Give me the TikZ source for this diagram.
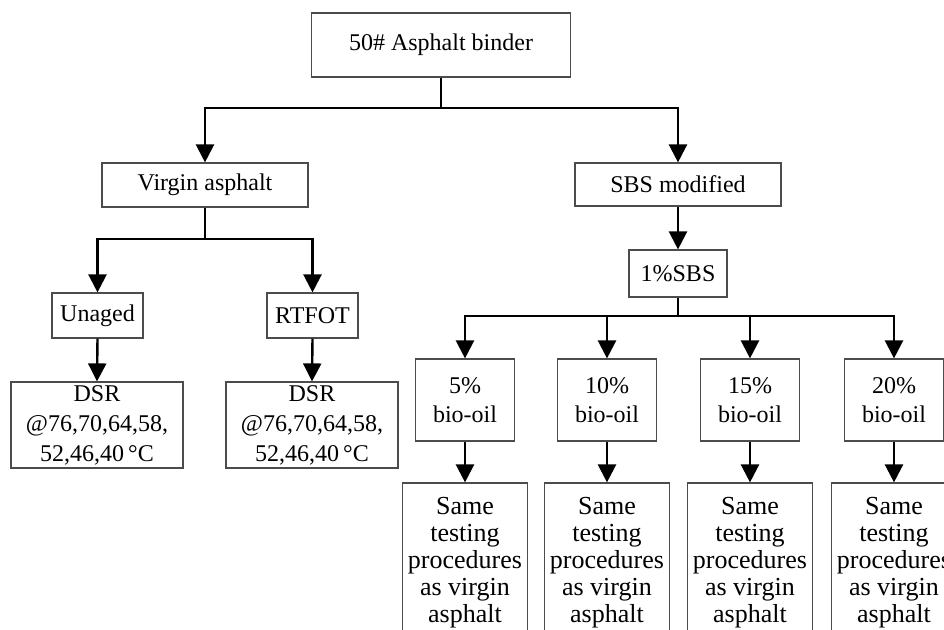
\documentclass[tikz,border=0pt]{standalone}
\usepackage{fontspec}
\setmainfont{Liberation Serif}
\usetikzlibrary{arrows.meta}

\begin{document}
\begin{tikzpicture}[x=0.5pt, y=-0.5pt, >={Triangle[length=9pt,width=9pt]},
    box/.style={draw=black!70, line width=0.6pt, inner sep=0pt, align=center,
                font=\fontsize{12}{14.4}\selectfont},
    conn/.style={line width=1.2pt}]
                \useasboundingbox (0,0) rectangle (944,629);
                \clip (0,0) rectangle (944,629);
                % boxes
                \node[box, minimum width=129.5pt, minimum height=32pt] (binder) at (441,45) {50\# Asphalt binder};
                \node[box, minimum width=103pt, minimum height=22pt] (virgin) at (205,185) {Virgin asphalt};
                \node[box, minimum width=103pt, minimum height=21.5pt] (sbs) at (678,184.5) {SBS modified};
                \node[box, minimum width=49pt, minimum height=23.5pt] (onesbs) at (678,273.5) {1\%SBS};
                \node[box, minimum width=45.5pt, minimum height=22.5pt] (unaged) at (97.5,315.5) {Unaged};
                \node[box, minimum width=45.5pt, minimum height=22.5pt] (rtfot) at (312.5,315.5) {RTFOT};
                \node[box, minimum width=86pt, minimum height=43pt, font=\fontsize{12}{15}\selectfont] (dsra) at (97,425)
                    {DSR\\@76,70,64,58,\\52,46,40\,°C};
                \node[box, minimum width=86pt, minimum height=43pt, font=\fontsize{12}{15}\selectfont] (dsrb) at (312,425)
                    {DSR\\@76,70,64,58,\\52,46,40\,°C};
                % split points
                \coordinate (splitA) at (441,108);
                \coordinate (splitB) at (205,239);
                \coordinate (splitC) at (678,316);
                \draw[conn] (binder.south) -- (splitA);
                \draw[conn,->] (splitA) -| (virgin.north);
                \draw[conn,->] (splitA) -| (sbs.north);
                \draw[conn] (virgin.south) -- (splitB);
                \draw[conn,->] (splitB) -| (unaged.north);
                \draw[conn,->] (splitB) -| (rtfot.north);
                \draw[conn,->] (unaged.south) -- (dsra.north);
                \draw[conn,->] (rtfot.south) -- (dsrb.north);
                \draw[conn,->] (sbs.south) -- (onesbs.north);
                \draw[conn] (onesbs.south) -- (splitC);
                \foreach \p/\x [count=\i] in {5/465, 10/607, 15/750, 20/894}
                {
                \node[box, minimum width=49.5pt, minimum height=41pt] (bio\i) at (\x,400) {\p\%\\bio-oil};
                \node[box, minimum width=62.5pt, minimum height=80pt, font=\fontsize{13}{13.5}\selectfont] (same\i) at (\x,563)
                    {Same\\testing\\procedures\\as virgin\\asphalt};
                \draw[conn,->] (splitC) -| (bio\i.north);
                \draw[conn,->] (bio\i.south) -- (same\i.north);
                }
            \end{tikzpicture}
\end{document}
